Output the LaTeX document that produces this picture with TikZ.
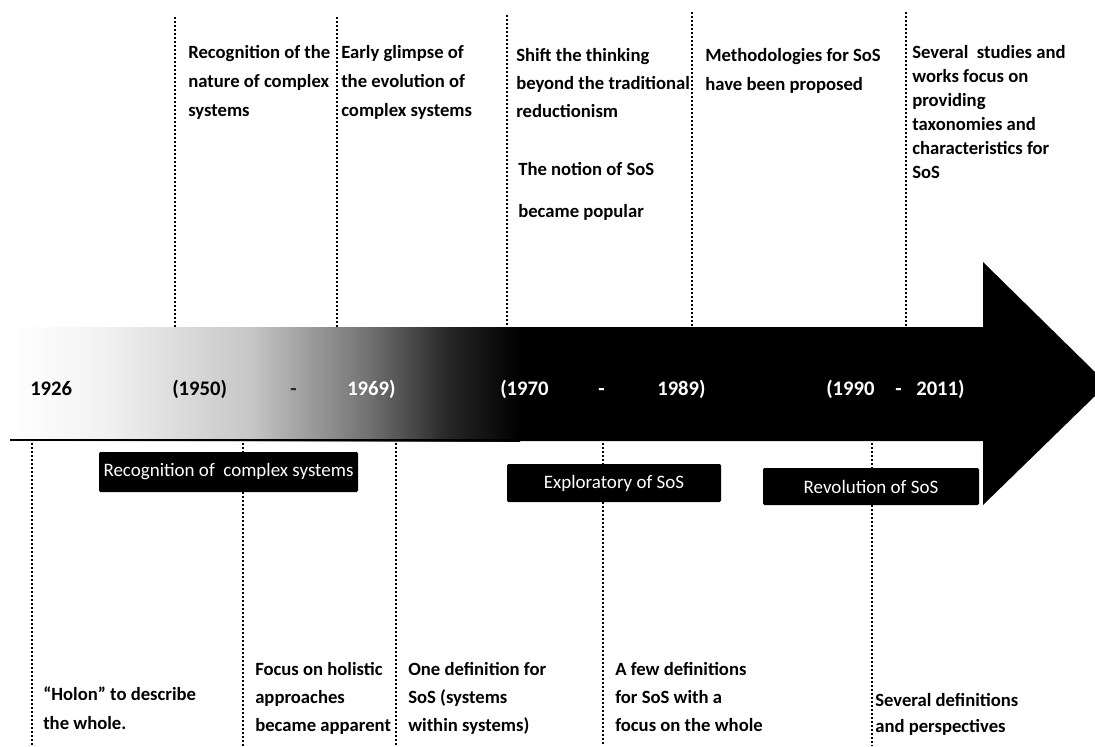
\documentclass[tikz,border=0pt]{standalone}
\usepackage{fontspec}
\setmainfont{Carlito}
\pgfdeclarehorizontalshading{bodyfade}{100bp}{color(0bp)=(white); color(25bp)=(white); color(34bp)=(black!5); color(48.5bp)=(black!22); color(60bp)=(black!55); color(68bp)=(black!85); color(75bp)=(black); color(100bp)=(black)}
\newcommand{\firstln}{\rule{0pt}{11pt}}
\tikzset{
  dots/.style={line width=1.6pt, dash pattern=on 1.5pt off 1.5pt, line cap=butt},
  txt/.style={anchor=north west, inner sep=0pt, align=left, font=\bfseries\fontsize{14}{21}\selectfont},
  yr/.style={anchor=base west, inner sep=0pt, font=\bfseries\fontsize{15.5}{18}\selectfont},
  era/.style={fill=black, text=white, inner sep=0pt, rounded corners=1pt, font=\fontsize{14.25}{17}\selectfont}
}
\begin{document}
\begin{tikzpicture}[x=0.75pt,y=-0.75pt]
\useasboundingbox (0,0) rectangle (1095,746);
% arrow body
\shade[shading=bodyfade] (10,327) rectangle (520,441);
\fill[black] (519,327) -- (983,327) -- (983,262) -- (1095,372) -- (1095,396) -- (983,505) -- (983,441) -- (519,441) -- cycle;
\coordinate (lineL) at (10,440);
\coordinate (lineR) at (983,440);
\draw[line width=1.8pt] (lineL) -- (lineR);
% years
\node[yr, text=black] (y1926) at (30,395) {1926};
\node[yr, text=black] (y1950) at (172,395) {(1950)};
\node[yr, text=black!85] (ydash1) at (290,395) {-};
\node[yr, text=white] (y1969) at (347,395) {1969)};
\node[yr, text=white] (y1970) at (500,395) {(1970};
\node[yr, text=white] (ydash2) at (598,395) {-};
\node[yr, text=white] (y1989) at (657,395) {1989)};
\node[yr, text=white] (y1990) at (826,395) {(1990};
\node[yr, text=white] (ydash3) at (895,395) {-};
\node[yr, text=white] (y2011) at (916,395) {2011)};
% top dotted lines
\coordinate (ta1) at (175,17);  \coordinate (tb1) at (175,327);
\coordinate (ta2) at (337,17);  \coordinate (tb2) at (337,327);
\coordinate (ta3) at (507,15);  \coordinate (tb3) at (507,327);
\coordinate (ta4) at (692,12);  \coordinate (tb4) at (692,327);
\coordinate (ta5) at (906,12);  \coordinate (tb5) at (906,327);
\foreach \i in {1,...,5} {\draw[dots] (ta\i) -- (tb\i);}
% era boxes
\node[era, minimum width=194.25pt, minimum height=30pt] (box1) at (228.5,472) {Recognition of~ complex systems};
\node[era, minimum width=160.5pt, minimum height=28.5pt] (box2) at (614,483) {Exploratory of SoS};
\node[era, minimum width=162pt, minimum height=27.75pt] (box3) at (871,486.5) {Revolution of SoS};
% bottom dotted lines
\coordinate (ba1) at (32,443);  \coordinate (bb1) at (32,746);
\coordinate (ba2) at (243,443); \coordinate (bb2) at (243,746);
\coordinate (ba3) at (396,443); \coordinate (bb3) at (396,746);
\coordinate (ba4) at (603,443); \coordinate (bb4) at (603,746);
\coordinate (ba5) at (872,443); \coordinate (bb5) at (872,746);
\draw[dots] (ba1) -- (bb1);
\draw[dots] (ba3) -- (bb3);
\draw[dots] (ba2) -- (ba2 |- box1.north);
\draw[dots] (ba2 |- box1.south) -- (bb2);
\draw[dots] (ba4) -- (ba4 |- box2.north);
\draw[dots] (ba4 |- box2.south) -- (bb4);
\draw[dots] (ba5) -- (ba5 |- box3.north);
\draw[dots] (ba5 |- box3.south) -- (bb5);
% top texts
\node[txt, font=\bfseries\fontsize{14}{22}\selectfont] (t1) at (188,43.3) {\firstln Recognition of the\\nature of complex\\systems};
\node[txt, font=\bfseries\fontsize{14}{22}\selectfont] (t2) at (341,43.3) {\firstln Early glimpse of\\the evolution of\\complex systems};
\node[txt] (t3) at (516,46.3) {\firstln Shift the thinking\\beyond the traditional\\reductionism};
\node[txt, font=\bfseries\fontsize{14}{31.5}\selectfont] (t3b) at (518,160.3) {\firstln The notion of SoS\\became popular};
\node[txt, font=\bfseries\fontsize{14}{21.75}\selectfont] (t4) at (705,46.3) {\firstln Methodologies for SoS\\have been proposed};
\node[txt, font=\bfseries\fontsize{14}{18}\selectfont] (t5) at (912,43.3) {\firstln Several~ studies and\\works focus on\\providing\\taxonomies and\\characteristics for\\SoS};
% bottom texts
\node[txt, font=\bfseries\fontsize{14}{21.75}\selectfont] (b1) at (43,685.3) {\firstln “Holon” to describe\\the whole.};
\node[txt] (b2) at (255,660.3) {\firstln Focus on holistic\\approaches\\became apparent};
\node[txt] (b3) at (408,660.3) {\firstln One definition for\\SoS (systems\\within systems)};
\node[txt] (b4) at (615,660.3) {\firstln A few definitions\\for SoS with a\\focus on the whole};
\node[txt, font=\bfseries\fontsize{14}{19.5}\selectfont] (b5) at (875,691.3) {\firstln Several definitions\\and perspectives};
\end{tikzpicture}
\end{document}
